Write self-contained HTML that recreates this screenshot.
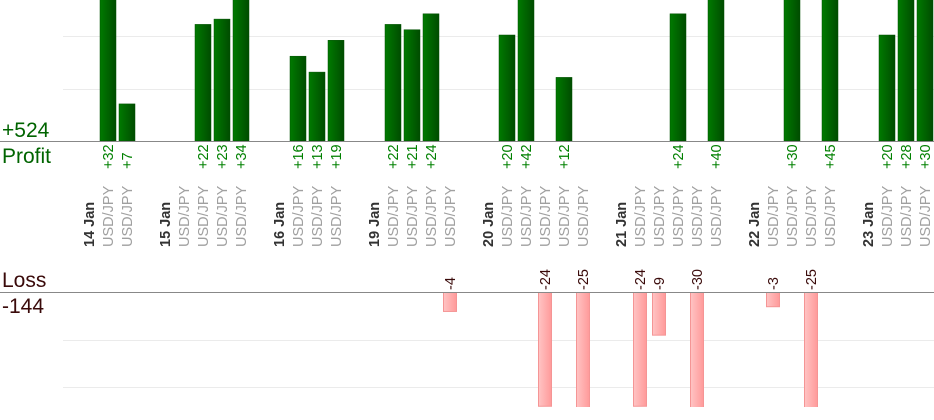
<!DOCTYPE html>
<html><head><meta charset="utf-8"><style>
html,body{margin:0;padding:0;background:#fff;}
svg{display:block;font-family:"Liberation Sans",sans-serif;}
</style></head><body>
<svg width="934" height="420" viewBox="0 0 934 420" xmlns="http://www.w3.org/2000/svg">
<defs>
<linearGradient id="g" x1="0" x2="1" y1="0" y2="0"><stop offset="0" stop-color="#007a00"/><stop offset="1" stop-color="#004c00"/></linearGradient>
<linearGradient id="r" x1="0" x2="1" y1="0" y2="0"><stop offset="0" stop-color="#ffc4c4"/><stop offset="1" stop-color="#ff9a9a"/></linearGradient>
<clipPath id="cp"><rect x="0" y="0" width="934" height="141"/></clipPath>
<clipPath id="cl"><rect x="0" y="292" width="934" height="115"/></clipPath>
</defs>
<g stroke="#ebebeb" stroke-width="1">
<line x1="63" y1="36.5" x2="934" y2="36.5"/><line x1="63" y1="89.5" x2="934" y2="89.5"/>
<line x1="63" y1="340.5" x2="934" y2="340.5"/><line x1="63" y1="387.5" x2="934" y2="387.5"/>
</g>
<g id="bars"></g>
<line x1="0" y1="141.5" x2="934" y2="141.5" stroke="#888"/>
<line x1="0" y1="292.5" x2="934" y2="292.5" stroke="#888"/>
<text x="2" y="137" font-size="21" fill="#006400">+524</text>
<text x="2" y="163" font-size="21" fill="#006400">Profit</text>
<text x="2" y="287" font-size="21" fill="#3a0a0a">Loss</text>
<text x="2" y="313" font-size="21" fill="#3a0a0a">-144</text>
<g id="labels"></g>
</svg>
<script>
var P={1:32,2:7,6:22,7:23,8:34,11:16,12:13,13:19,16:22,17:21,18:24,22:20,23:42,25:12,31:24,33:40,37:30,39:45,42:20,43:28,44:30};
var L={19:-4,24:-24,26:-25,29:-24,30:-9,32:-30,36:-3,38:-25};
var dates={0:"14 Jan",4:"15 Jan",10:"16 Jan",15:"19 Jan",21:"20 Jan",28:"21 Jan",35:"22 Jan",41:"23 Jan"};
var usd=[1,2,5,6,7,8,11,12,13,16,17,18,19,22,23,24,25,26,29,30,31,32,33,36,37,38,39,42,43,44];
var ns="http://www.w3.org/2000/svg",b=document.getElementById("bars"),lb=document.getElementById("labels");
function cx(i){return 89+19*i;}
function el(t,a,p,txt){var e=document.createElementNS(ns,t);for(var k in a)e.setAttribute(k,a[k]);if(txt!=null)e.textContent=txt;p.appendChild(e);return e;}
var gp=el("g",{"clip-path":"url(#cp)"},b),gl=el("g",{"clip-path":"url(#cl)"},b);
for(var i in P){var h=P[i]*5.3,x=cx(+i);
el("rect",{x:x-8,y:141-h,width:16,height:h,fill:"url(#g)",stroke:"#005000","stroke-width":0.5},gp);
el("text",{transform:"translate("+(x+5)+",169) rotate(-90)","font-size":"14.5",fill:"#008000"},lb,"+"+P[i]);}
for(var i in L){var h=-L[i]*4.74,x=cx(+i);
el("rect",{x:x-6.5,y:292.5,width:13,height:h,fill:"url(#r)",stroke:"#f59595","stroke-width":1},gl);
el("text",{transform:"translate("+(x+5)+",290) rotate(-90)","font-size":"14.5",fill:"#3a0a0a"},lb,L[i]);}
for(var i in dates){var x=cx(+i);el("text",{transform:"translate("+(x+5)+",247) rotate(-90)","font-size":"14.5","font-weight":"bold",fill:"#333"},lb,dates[i]);}
usd.forEach(function(i){var x=cx(i);el("text",{transform:"translate("+(x+5)+",247) rotate(-90)","font-size":"14.5",fill:"#a0a0a0"},lb,"USD/JPY");});
</script>
</body></html>
